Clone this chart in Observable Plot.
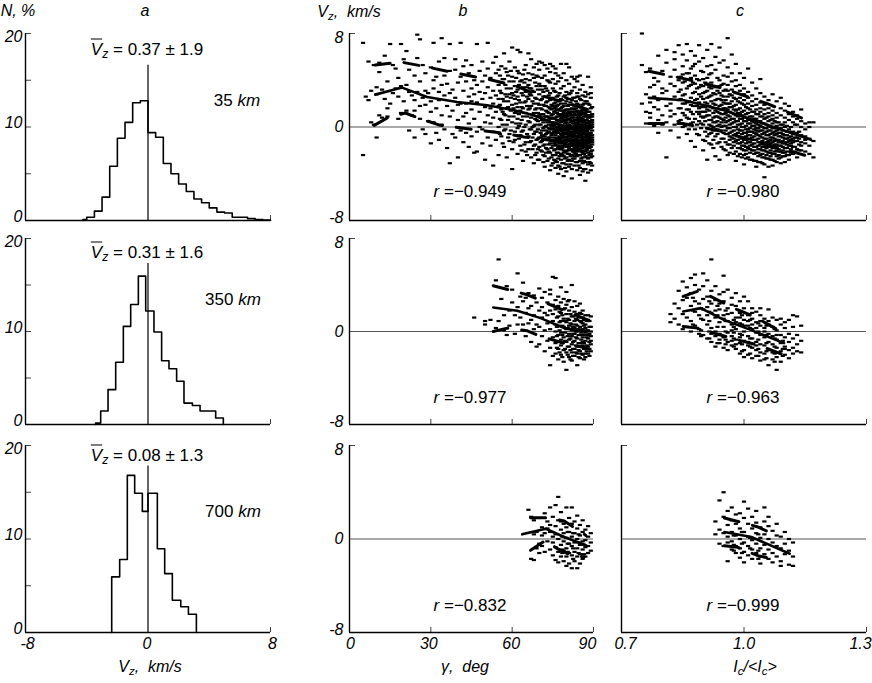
<!DOCTYPE html>
<html><head><meta charset="utf-8">
<script src="https://cdn.jsdelivr.net/npm/d3@7"></script>
<script src="https://cdn.jsdelivr.net/npm/@observablehq/plot@0.6"></script>
<style>
body{margin:0;background:#fff;}
#wrap{position:relative;width:872px;height:683px;overflow:hidden;font-family:"Liberation Sans",Arial,sans-serif;color:#000;background:#fff;}
.t{position:absolute;transform:translate(-50%,-50%);white-space:nowrap;line-height:1;}
.i{font-style:italic;}
.ov{text-decoration:overline;font-style:italic;}
sub{font-size:0.72em;vertical-align:-0.3em;line-height:0;font-style:italic;}
svg.p{position:absolute;}
</style></head><body><div id="wrap"></div>
<script>
// ---------------- DATA ----------------
const heights = ["35", "350", "700"];
const meanLabels = ["0.37 ± 1.9", "0.31 ± 1.6", "0.08 ± 1.3"];
const rB = ["−0.949", "−0.977", "−0.832"];
const rC = ["−0.980", "−0.963", "−0.999"];

// histograms (column a): bin edges and percentages
const hist1Edges = [-4.25,-4,-3.5,-3,-2.5,-2,-1.5,-1,-0.5,0,0.5,1,1.5,2,2.5,3,3.5,4,4.5,5,5.5,6,6.5,7,7.5,8];
const hist1Counts = [0.1,0.35,1.0,2.5,5.8,8.8,10.5,12.6,12.8,9.4,8.9,6.1,5.0,3.9,3.1,2.3,1.9,1.35,0.9,0.8,0.35,0.35,0.2,0.1,0.05];
const hist2Edges = [-3.42,-3.09,-2.61,-2.11,-1.61,-1.13,-0.63,-0.15,0.39,0.89,1.37,1.87,2.35,2.9,3.4,3.88,4.42,4.92];
const hist2Counts = [0.15,1.45,3.75,6.7,10.55,12.9,15.95,12.2,9.95,6.85,6.0,4.65,2.3,2.05,1.45,1.45,0.7];
const hist3Edges = [-2.37,-1.85,-1.35,-0.87,-0.37,0,0.61,1.09,1.59,2.14,2.64,3.16];
const hist3Counts = [5.95,7.8,16.8,14.9,12.95,14.9,8.95,6.3,3.45,2.75,1.95];
const meanLineTop = [16.6, 17.3, 17.8];

// scatter clouds, "x:y y y ..."  (column b: gamma in deg, column c: Ic/<Ic>)
const scatterB1 = [
"5:-2.4 7.2","6:2.6","7:5.6 2.3","8:3.1 0.4","9:5.3 0.2","10:-0.9 3.4 2.8","11:4.7 1.0 5.5","12:3.2 0.8",
"13:6.1 2.4","14:3.9 1.6 0.9","15:7.1 2.0","16:2.9 5.3","17:5.0 3.3","18:0.7 4.2 2.6","19:7.1 3.5 1.2",
"20:5.8 2.2","21:3.6 1.4 6.5","22:4.9 -0.3 3.0","23:2.7 1.0","24:4.4 2.3 -0.9 1.4","25:7.9 5.9 3.0",
"26:7.5 3.9 0.7 1.8","27:5.3 2.5 -0.2","28:4.6 1.9 -0.6 3.1","29:2.9 0.5","30:5.1 2.2 1.3 -1.4",
"31:7.2 3.3 0.4 4.0","32:4.3 1.6 -0.5","33:2.3 -1.1 3.0 5.6","34:7.6 1.0 3.6 0.2","35:5.9 2.7 -0.2 4.4",
"36:3.7 1.8 -1.8","37:7.1 4.8 -3.1 0.9 2.9","38:1.4 3.2 -0.6","39:4.9 2.5 -0.9 5.8","40:3.8 0.6 -2.6 1.9",
"41:7.2 2.0 4.3 -0.3","42:3.1 0.9 -1.3 5.2","43:5.7 2.0 3.9 -0.5 1.2","44:2.6 4.6 -1.7 0.3",
"45:5.3 3.3 1.5 -0.8 2.2","46:4.0 0.7 -2.2 2.8","47:7.1 2.1 -2.1 3.6 -0.4","48:4.8 1.3 0.0 3.0",
"49:5.6 2.4 -1.4 3.9 -0.2","50:4.4 1.7 0.4 2.9 -2.8","51:7.2 3.4 1.0 -0.9 5.0","52:2.5 4.2 -1.6 0.3 1.6",
"53:5.5 3.1 0.8 -0.4 2.0 -3.3","54:4.6 2.7 1.3 -1.1 6.0","55:3.6 1.8 0.0 -2.4 4.9 2.4",
"56:5.2 2.9 0.6 -0.8 1.5 3.8","57:4.1 2.2 -0.3 -1.7 6.3 1.1","58:3.3 1.6 0.2 4.7 -2.6 2.6",
"59:5.6 2.8 -0.6 0.9 3.9 -1.2","60:4.3 1.9 0.4 -1.9 2.9 6.8 -3.6","61:3.5 1.2 -0.4 5.1 2.4 -1.1",
"62:4.8 2.6 0.7 -2.3 1.7 3.2 -0.1 6.6","63:6.4 3.9 1.4 -0.7 2.1 -1.6 0.3","64:4.5 2.7 0.9 -2.9 3.4 -0.3 1.6",
"65:5.3 3.0 1.2 -1.3 0.2 2.2 -2.1 4.1","66:4.6 2.4 0.5 -0.8 3.6 1.5 -1.9 6.3",
"67:5.8 3.3 1.8 -0.2 -2.6 2.7 0.8 -1.2","68:4.2 2.0 0.1 -1.6 3.0 1.2 -0.6 5.1 -3.1",
"69:5.4 3.5 1.6 -0.4 2.4 0.6 -2.2 4.4 -1.1","70:4.9 2.8 1.0 -0.9 3.7 1.9 0.2 -1.7 -2.8 5.6",
"71:5.5 3.2 1.5 -0.3 2.4 0.6 -1.2 -2.1 4.2 -0.7","72:4.4 2.6 0.9 -1.5 3.5 1.8 0.0 -0.8 -2.5 5.3 -3.4",
"73:5.0 3.1 1.3 -0.5 2.2 0.4 -1.1 -1.9 4.0 -2.9 0.9","74:4.7 2.9 1.6 -0.2 3.8 0.7 -1.4 -0.9 2.3 -2.2 -3.7 5.4",
"75:4.1 2.5 1.1 -0.6 3.3 0.2 -1.6 -2.4 1.8 -0.1 -3.1 5.2",
"76:4.6 3.0 2.1 1.4 0.8 0.3 -0.2 -0.7 -1.1 -1.5 -1.9 -2.4 -2.9 -3.5 3.7 1.7 -0.4 -1.3 5.0",
"77:3.9 2.7 1.9 1.1 0.5 0.0 -0.5 -0.9 -1.3 -1.8 -2.2 -2.7 -3.3 4.4 2.3 -0.2 -1.6 -4.0 1.5",
"78:4.2 3.3 2.4 1.6 1.0 0.4 -0.1 -0.6 -1.0 -1.4 -1.9 -2.3 -2.8 -3.6 0.7 -0.3 -1.2 2.0 5.4",
"79:3.5 2.6 1.8 1.2 0.6 0.1 -0.3 -0.8 -1.2 -1.6 -2.0 -2.5 -3.1 -4.2 4.6 0.9 -0.5 -2.2 1.4",
"80:4.0 3.0 2.2 1.5 0.9 0.4 -0.1 -0.5 -0.9 -1.3 -1.7 -2.1 -2.6 -3.2 -3.8 0.6 -0.3 -1.1 2.5 1.1 5.4",
"81:3.7 2.8 1.9 1.3 0.7 0.2 -0.2 -0.7 -1.0 -1.5 -1.9 -2.3 -2.8 -3.4 5.1 1.0 -0.4 -1.7 0.0 2.4",
"82:4.3 3.1 2.3 1.6 1.0 0.5 0.0 -0.4 -0.8 -1.2 -1.6 -2.0 -2.4 -2.9 -3.6 -4.4 0.8 -0.6 -1.4 1.3",
"83:3.4 2.5 1.8 1.1 0.6 0.1 -0.3 -0.7 -1.1 -1.5 -1.8 -2.2 -2.7 -3.3 4.1 0.3 -0.5 -1.3 -2.5 1.5",
"84:3.9 2.9 2.0 1.4 0.8 0.3 -0.1 -0.5 -0.9 -1.3 -1.7 -2.1 -2.5 -3.0 -3.7 0.6 -0.3 -1.1 -1.9 2.6 4.3",
"85:3.2 2.4 1.7 1.0 0.5 0.0 -0.4 -0.8 -1.2 -1.6 -2.0 -2.4 -2.9 -3.5 -4.1 0.2 -0.6 -1.4 1.3 4.4",
"86:3.6 2.7 1.9 1.2 0.7 0.2 -0.2 -0.6 -1.0 -1.4 -1.8 -2.2 -2.6 -3.1 -3.8 0.4 -0.4 -1.2 -2.0 1.5",
"87:3.0 2.2 1.5 0.9 0.4 -0.1 -0.5 -0.9 -1.3 -1.7 -2.1 -2.5 -3.0 -3.6 -4.6 0.6 -0.3 -1.1 1.2 2.6",
"88:2.8 2.0 1.3 0.8 0.3 -0.2 -0.6 -1.0 -1.4 -1.8 -2.2 -2.7 -3.2 -3.9 4.3 0.0 -0.8 -1.6 1.0",
"89:2.5 1.6 0.9 0.4 -0.1 -0.5 -0.9 -1.3 -1.7 -2.1 -2.6 -3.1 -3.7 2.9 0.2 -1.1 -2.3 3.4",
"55.5:3.1 0.7 4.4 1.9 -0.6","56.5:2.4 4.1 0.2 1.3 -1.4","57.5:3.6 1.0 2.8 -0.2 5.0","58.5:2.2 4.4 0.6 -0.9 1.7",
"59.5:3.3 1.4 -0.3 2.5 4.8","60.5:2.7 0.9 3.9 -1.3 1.6","61.5:4.2 2.0 0.3 3.0 -0.7 1.3","62.5:3.6 1.1 -1.0 2.3 0.1 4.6",
"63.5:2.9 0.6 4.0 1.7 -0.4 -2.0","64.5:3.8 2.1 0.0 1.2 -1.5 4.9","65.5:2.6 0.9 3.4 -0.6 1.8 -2.4",
"66.5:4.0 1.6 -0.2 2.8 0.4 -1.3 3.3","67.5:3.1 1.0 2.2 -0.9 0.0 4.5 -1.9","68.5:2.5 0.7 3.8 1.5 -0.4 -1.5 -2.4 0.2",
"69.5:3.2 1.2 2.0 -0.2 0.5 -1.0 -1.9 4.3 -2.8","70.5:2.3 0.9 1.6 -0.5 0.2 -1.3 -2.0 3.5 -0.9 1.1",
"71.5:3.0 1.9 0.4 -0.1 1.1 -0.8 -1.6 -2.4 2.6 0.7 -3.0","72.5:2.1 1.4 0.6 -0.3 0.1 -1.0 -1.8 -2.2 3.3 0.9 -0.6 1.8",
"73.5:2.7 1.7 0.8 0.2 -0.4 -0.9 -1.5 -2.1 -2.7 1.2 -0.1 0.5 3.9",
"74.5:2.4 1.5 1.0 0.4 -0.2 -0.7 -1.2 -1.8 -2.6 0.8 0.1 -0.5 1.9 -3.3",
"75.5:3.1 2.0 1.3 0.7 0.1 -0.4 -0.9 -1.4 -2.0 -2.8 1.6 0.4 -0.2 -1.1",
"76.5:2.6 1.8 1.2 0.6 0.0 -0.5 -1.0 -1.6 -2.2 -3.0 1.5 0.3 -0.3 -1.3 0.9",
"77.5:2.9 2.2 1.4 0.9 0.2 -0.3 -0.8 -1.4 -1.9 -2.5 1.1 0.5 -0.1 -1.1 -1.7 -3.4",
"78.5:2.3 1.7 1.1 0.5 0.1 -0.4 -0.9 -1.3 -1.8 -2.4 -3.1 1.4 0.8 -0.2 -0.7 -1.6",
"79.5:2.7 2.0 1.4 0.8 0.3 -0.2 -0.6 -1.1 -1.5 -2.1 -2.7 1.0 0.5 0.0 -0.9 -1.4 -3.5",
"80.5:2.4 1.8 1.2 0.7 0.2 -0.3 -0.8 -1.2 -1.7 -2.3 -2.9 1.5 0.9 -0.1 -0.6 -1.5 -2.0",
"81.5:2.9 2.1 1.5 1.0 0.4 -0.1 -0.5 -1.0 -1.4 -1.9 -2.5 1.2 0.6 0.1 -0.8 -1.2 -3.2",
"82.5:2.5 1.9 1.3 0.8 0.3 -0.2 -0.7 -1.1 -1.6 -2.1 -2.7 1.0 0.5 -0.4 -0.9 -1.4 -1.9",
"83.5:2.2 1.6 1.0 0.6 0.1 -0.4 -0.8 -1.3 -1.7 -2.3 -3.0 1.3 0.4 -0.1 -1.0 -1.5 -2.0",
"84.5:2.6 1.9 1.3 0.9 0.4 0.0 -0.5 -0.9 -1.4 -1.9 -2.4 -3.3 1.1 0.7 0.2 -0.7 -1.2 -1.6",
"85.5:2.3 1.7 1.1 0.6 0.2 -0.3 -0.7 -1.1 -1.6 -2.1 -2.7 1.4 0.8 -0.1 -0.9 -1.3 -1.8",
"86.5:2.0 1.4 0.9 0.5 0.0 -0.4 -0.8 -1.3 -1.7 -2.3 -2.9 1.1 0.6 0.2 -0.6 -1.1 -1.5 -3.6",
"87.5:2.2 1.5 1.0 0.6 0.1 -0.3 -0.7 -1.2 -1.6 -2.0 -2.6 1.3 0.3 -0.1 -0.9 -1.4 -1.9",
"88.5:1.9 1.3 0.8 0.4 -0.1 -0.5 -0.9 -1.3 -1.8 -2.4 -3.0 1.0 0.5 0.1 -0.7 -1.1 -1.6",
"89.5:1.7 1.1 0.6 0.2 -0.3 -0.7 -1.1 -1.5 -2.0 -2.5 0.9 0.4 0.0 -0.9 -1.3 -3.3"
];
const scatterC1 = [
"0.75:8.0 5.3 2.0","0.76:1.3 4.7 0.3 2.8","0.77:3.4 0.8 2.1 5.0 1.2","0.78:4.2 1.7 0.1 2.6 3.6",
"0.79:2.3 6.1 0.6 3.9 1.5 -0.5","0.80:4.8 2.9 1.0 0.2 3.3","0.81:5.5 3.1 1.8 0.4 2.4 6.6 -2.6",
"0.82:4.3 2.0 0.9 3.7 1.4 -0.3","0.83:6.4 3.5 2.6 1.1 0.2 4.9 5.8","0.84:4.0 2.3 1.6 0.5 3.0 7.0 -0.9",
"0.85:5.2 3.8 2.7 1.2 0.0 4.5 2.0 6.2","0.86:4.6 3.3 2.1 0.8 5.7 1.5 -0.6 7.1",
"0.87:5.0 3.6 2.5 1.3 0.3 4.2 -1.2 6.5 1.9","0.88:6.1 4.4 3.0 1.8 0.7 -0.2 2.3 3.7 5.4 -1.7",
"0.89:5.6 4.0 2.8 1.6 0.5 3.4 -0.7 2.1 7.0 1.1","0.90:4.7 3.5 2.4 1.3 0.2 5.9 -1.1 2.9 0.8 4.1 -2.0",
"0.91:6.6 4.2 3.1 2.0 1.0 -0.1 3.7 1.5 -0.8 5.2 2.5 -2.8","0.92:5.3 3.8 2.7 1.7 0.6 -0.5 4.6 2.2 0.1 -1.5 3.3 7.1",
"0.93:4.9 3.4 2.3 1.4 0.4 -0.8 6.0 1.9 -0.2 2.8 -2.5 0.9","0.94:5.5 4.0 2.9 1.8 0.8 -0.3 3.5 1.2 -1.3 2.4 0.2 6.8 -2.8",
"0.95:4.4 3.1 2.1 1.1 0.1 -1.0 3.7 1.6 -0.5 2.6 0.6 5.7 -1.9","0.96:5.1 3.6 2.6 1.5 0.5 -0.6 2.0 1.0 -0.1 -1.5 3.1 4.3 -2.4 7.6",
"0.97:4.6 3.2 2.2 1.2 0.3 -0.9 1.7 0.7 -0.4 -1.8 2.7 3.9 6.2","0.98:4.0 2.9 1.9 1.0 0.0 -1.2 1.4 0.5 -0.6 -2.1 2.4 3.5 5.4 -2.9",
"0.99:3.6 2.5 1.6 0.7 -0.3 -1.4 1.1 0.2 -0.9 -2.3 2.1 3.1 4.6 -1.8","1.00:3.3 2.3 1.4 0.5 -0.5 -1.6 0.9 0.0 -1.1 -2.4 1.9 2.8 4.2 -3.2 -2.0",
"1.01:3.0 2.0 1.2 0.3 -0.7 -1.8 0.7 -0.2 -1.3 -2.6 1.6 2.5 5.0 -0.4","1.02:2.7 1.8 0.9 0.1 -0.9 -2.0 0.5 -0.4 -1.5 -2.8 1.3 2.2 3.8 -1.1",
"1.03:2.4 1.5 0.7 -0.1 -1.1 -2.2 0.3 -0.6 -1.7 -2.9 1.1 1.9 3.3 -0.3 -3.4","1.04:2.1 1.3 0.5 -0.3 -1.3 -2.4 0.1 -0.8 -1.9 -3.0 0.9 1.6 2.9 -1.5 4.1",
"1.05:1.9 1.1 0.3 -0.5 -1.5 -2.6 -0.1 -1.0 -2.0 -3.2 0.7 1.5 2.6 -1.7 -4.3","1.06:1.6 0.9 0.1 -0.7 -1.7 -2.7 -0.3 -1.2 -2.2 -3.4 0.5 1.2 2.3 -1.4",
"1.07:1.4 0.7 -0.1 -0.9 -1.8 -2.8 -0.5 -1.3 -2.3 -3.3 0.3 1.0 2.8 -1.6","1.08:1.2 0.4 -0.3 -1.1 -2.0 -3.0 -0.6 -1.5 -2.5 0.1 0.8 2.2 -1.8",
"1.09:1.0 0.2 -0.5 -1.3 -2.1 -3.1 -0.8 -1.6 -2.6 1.6 -0.1 2.5","1.10:0.8 0.0 -0.7 -1.4 -2.2 -3.0 -1.0 -1.8 -2.5 1.4 0.4 2.0",
"1.11:0.6 -0.2 -0.9 -1.6 -2.4 -2.8 -1.2 -0.4 1.1 1.8","1.12:0.4 -0.4 -1.0 -1.7 -2.3 -1.3 0.9 -0.6 1.3",
"1.13:0.2 -0.5 -1.2 -1.9 -2.6 0.7 -0.9 1.0","1.14:0.0 -0.7 -1.3 -2.0 0.5 -1.6 1.5","1.15:-0.2 -0.8 -1.4 -2.1 0.3 -1.1",
"1.16:0.4 -1.0 -1.6 -2.3 0.0","1.17:-2.6 -1.2 0.4",
"0.845:3.2 1.6 0.6 4.3 2.4","0.855:2.8 1.0 3.9 0.1 2.0","0.865:3.5 2.2 0.7 1.5 4.6 -0.2",
"0.875:2.9 1.8 0.4 3.8 1.1 5.2","0.885:3.3 2.4 1.3 0.2 4.1 -0.6 1.8","0.895:2.6 1.7 0.9 3.6 -0.1 4.8 1.3 0.3",
"0.905:3.0 2.1 1.3 0.5 -0.4 3.8 1.7 0.9 -1.2","0.915:2.6 1.8 1.0 0.2 -0.6 3.4 1.4 0.6 -1.4 4.5",
"0.925:2.9 2.0 1.2 0.4 -0.3 -1.1 3.5 1.6 0.8 0.0 -1.8","0.935:2.4 1.6 0.9 0.1 -0.6 -1.4 3.1 1.3 0.5 -0.2 4.2",
"0.945:2.7 1.9 1.1 0.4 -0.3 -1.0 -1.7 2.3 1.5 0.7 0.0 3.6","0.955:2.3 1.6 0.8 0.1 -0.6 -1.3 -2.0 2.0 1.2 0.4 -0.3 3.2",
"0.965:2.0 1.3 0.6 -0.1 -0.8 -1.5 -2.2 1.7 0.9 0.2 -0.5 2.8 -1.1","0.975:1.8 1.1 0.4 -0.3 -1.0 -1.6 -2.3 1.5 0.7 0.0 -0.7 2.5 -1.3",
"0.985:1.5 0.9 0.2 -0.5 -1.1 -1.8 -2.5 1.2 0.5 -0.2 -0.8 2.2 -1.4","0.995:1.3 0.7 0.0 -0.6 -1.3 -1.9 -2.6 1.0 0.3 -0.3 -1.0 2.0 -1.6",
"1.005:1.1 0.5 -0.2 -0.8 -1.4 -2.0 -2.7 0.8 0.1 -0.5 -1.1 1.7 -1.7 -2.3","1.015:0.9 0.3 -0.4 -1.0 -1.6 -2.2 -2.8 0.6 -0.1 -0.7 -1.3 1.5 -1.9",
"1.025:0.7 0.1 -0.5 -1.1 -1.7 -2.3 -2.9 0.4 -0.2 -0.8 -1.4 1.3 -2.0","1.035:0.5 -0.1 -0.7 -1.3 -1.9 -2.5 -3.0 0.2 -0.4 -1.0 -1.6 1.1 -2.2",
"1.045:0.3 -0.3 -0.9 -1.4 -2.0 -2.6 -3.1 0.0 -0.6 -1.2 -1.7 0.9 -2.3","1.055:0.2 -0.4 -1.0 -1.6 -2.1 -2.7 0.8 -0.1 -0.7 -1.3 -1.8 -2.4",
"1.065:0.0 -0.6 -1.1 -1.7 -2.2 -2.8 0.6 -0.3 -0.9 -1.4 -2.0 -2.5","1.075:-0.1 -0.7 -1.2 -1.8 -2.3 -2.9 0.5 -0.4 -1.0 -1.5 -2.1",
"1.085:-0.2 -0.8 -1.3 -1.9 -2.4 0.4 -0.5 -1.1 -1.6 -2.1 -2.7","1.095:-0.3 -0.9 -1.4 -2.0 -2.5 0.2 -0.6 -1.2 -1.7 -2.2",
"1.105:-0.4 -1.0 -1.5 -2.1 0.1 -0.7 -1.3 -1.8 -2.4","1.115:-0.5 -1.1 -1.6 -2.2 0.0 -0.8 -1.4 -1.9",
"1.125:-0.6 -1.2 -1.7 0.2 -0.9 -2.1","1.135:-0.4 -1.0 -1.5 -2.0"
];
const scatterB2 = [
"46:1.2","50:0.9 0.6","52:1.0","54:4.4 0.3","55:6.2 0.9","56:2.8","57:1.4 0.1","58:-0.3 3.9","59:1.8 0.5",
"60:3.6 2.5","61:1.4 -0.2","62:5.0 0.6 2.1","63:3.0 1.2","64:4.2 2.6 0.6","65:1.6 -0.4 2.9","66:0.7 3.3 2.0",
"67:2.2 1.0 -0.9","68:1.4 3.1 0.2","69:0.6 2.5 -1.3","70:3.7 1.8 -1.1 0.4","71:2.9 -0.4 1.2 2.1",
"72:1.6 0.1 -1.7 3.4","73:1.4 2.5 -0.8 0.7","74:3.6 3.2 -2.9 0.2 1.8 -1.4","75:4.7 2.3 0.9 -0.5 -2.1 1.5",
"76:4.6 0.6 1.9 -1.0 -1.9 2.7 0.0","77:3.0 1.3 -0.3 -1.5 2.2 0.5 -2.4","78:2.5 0.9 -0.7 -1.2 1.6 -0.1 -2.0 3.8",
"79:1.9 0.4 -0.5 -1.6 2.8 1.1 -2.6","80:3.4 1.5 0.2 -0.9 -1.8 0.8 -3.3 2.3","81:2.7 1.0 -0.2 -1.3 -2.2 0.5 1.8 -0.7",
"82:4.0 2.1 0.6 -0.4 -1.1 -2.5 1.3 -1.8 0.1","83:1.7 0.3 -0.8 -1.5 2.6 0.9 -2.1 -0.2",
"84:2.2 1.0 0.0 -0.6 -1.3 -2.9 1.5 -1.9 0.5","85:1.6 0.4 -0.3 -1.0 -1.7 2.4 0.9 -2.3",
"86:1.2 0.2 -0.5 -1.2 -2.0 0.7 -0.9 1.8","87:1.4 0.6 -0.1 -0.8 -1.5 -2.2 0.3 -1.9",
"88:1.0 0.1 -0.6 -1.3 -1.9 1.4 -0.3","89:1.3 0.4 -0.4 -1.1 -1.7 0.0 -0.8",
"76.5:1.2 -0.4 -1.4 0.4 2.1","77.5:0.8 -0.9 -1.8 1.7 0.1","78.5:1.4 -0.3 -1.0 0.5 -2.2","79.5:0.9 -0.8 -1.5 -0.1 2.0",
"80.5:1.1 -0.4 -1.3 0.3 -2.0 2.6","81.5:0.7 -0.6 -1.6 0.2 1.5 -2.4","82.5:1.3 -0.2 -0.9 -1.5 0.4 -2.1",
"83.5:0.6 -0.5 -1.2 -1.8 1.1 0.0","84.5:1.2 0.2 -0.3 -1.0 -1.6 -2.2","85.5:0.8 -0.1 -0.7 -1.3 -1.9 1.5",
"86.5:0.5 -0.3 -1.0 -1.5 -2.4 1.0","87.5:0.9 0.1 -0.5 -1.2 -1.7","88.5:0.4 -0.2 -0.9 -1.5 -2.1 0.9"
];
const scatterC2 = [
"0.82:1.5 0.8","0.83:2.4 1.1","0.84:3.5 0.6 2.0","0.85:4.3 1.5 0.2 2.7","0.86:2.9 1.2 3.8 0.4",
"0.87:4.6 2.2 0.9 0.0 3.3","0.88:4.9 1.7 0.5 2.6 4.0","0.89:3.6 1.4 0.2 2.4 -0.2","0.90:5.0 2.8 1.0 -0.3 3.9 1.9",
"0.91:4.4 2.1 0.6 -0.6 3.0 1.4","0.92:6.2 3.5 1.6 0.3 -0.9 2.4 -0.2","0.93:3.9 2.7 1.2 0.0 -0.4 1.8 -1.3",
"0.94:3.2 1.9 0.8 -0.7 2.4 -0.2 -1.0","0.95:4.8 2.6 1.4 0.4 -0.5 -1.4 1.1 3.4","0.96:3.6 2.0 0.9 -0.1 -0.9 1.5 -1.6",
"0.97:2.9 1.6 0.6 -0.4 -1.2 2.3 0.1 -0.8","0.98:3.3 2.2 1.2 0.2 -0.7 -1.5 0.8 -1.1","0.99:2.6 1.6 0.7 -0.2 -1.0 -1.9 1.2 -0.5",
"1.00:3.0 2.0 1.0 0.0 -0.8 -1.6 0.5 -2.2","1.01:2.6 1.4 0.5 -0.4 -1.2 -2.0 0.9 -0.9","1.02:2.0 1.1 0.2 -0.6 -1.4 -2.3 0.6 1.6",
"1.03:1.7 0.8 -0.1 -0.9 -1.6 -2.1 0.3 -1.2","1.04:1.4 0.5 -0.3 -1.1 -1.8 -2.5 0.9 2.0","1.05:1.1 0.3 -0.5 -1.2 -1.9 -2.4 0.0",
"1.06:1.9 0.6 -0.2 -0.9 -1.6 -2.9 0.9","1.07:0.4 -0.4 -1.1 -1.8 -2.4 1.2","1.08:1.0 0.1 -0.7 -1.4 -2.2 -3.3 -0.3",
"1.09:0.6 -0.3 -1.0 -1.7 -2.6 1.1","1.10:0.3 -0.5 -1.3 -2.0 -1.5 0.8","1.11:1.0 -0.2 -0.9 -1.6 -2.3",
"1.12:1.4 0.4 -0.6 -1.4 -1.9","1.13:1.3 -0.3 -1.1 -1.7","1.14:0.5 -0.8 -1.8",
"0.875:1.8 0.6 2.9","0.895:1.1 2.0 0.1 -0.4","0.915:0.9 1.7 0.0 -0.6 2.6","0.935:1.4 0.4 -0.3 -1.0 2.2",
"0.955:0.9 0.0 -0.7 -1.1 1.8","0.975:1.0 -0.1 -0.6 -1.3 0.4","0.995:0.6 -0.3 -1.1 -1.7 1.4","1.015:0.3 -0.6 -1.3 -1.9 1.0",
"1.035:0.0 -0.7 -1.5 -2.1 0.7","1.055:-0.3 -1.0 -1.7 -2.3 0.5","1.075:-0.6 -1.3 -1.9 -2.6 0.2","1.095:-0.8 -1.5 -2.1"
];
const scatterB3 = [
"66:2.5","67:1.9 -1.7","68:1.6 0.4 -1.8","69:0.6 -0.8","70:1.8 -0.4 -1.2","71:1.0 0.3 -0.6","72:2.2 0.5 -1.1",
"73:1.5 -0.2 0.9","74:2.7 0.6 -0.9 1.2","75:1.9 -0.3 -1.4 0.2","76:2.9 1.1 -0.7 -1.8 0.4","77:3.6 1.6 0.0 -1.1 -2.0",
"78:2.3 0.8 -0.5 -1.5 1.5","79:1.3 -0.2 -1.0 -1.9 0.5","80:2.7 1.0 0.1 -0.8 -1.5 -2.3","81:1.8 0.6 -0.4 -1.2 -2.1",
"82:2.7 1.3 0.2 -0.6 -1.4 -2.5","83:1.5 0.5 -0.3 -1.1 -1.9","84:2.0 0.9 0.0 -0.8 -2.5 -1.5","85:1.2 0.3 -0.5 -1.3 -2.1",
"86:1.6 0.6 -0.2 -0.9 -1.7","87:0.8 -0.1 -0.7 -1.5","88:1.1 0.2 -0.6 -1.2","89:0.5 -0.3 -1.0",
"78.5:-0.9 0.2 -1.2","80.5:-0.4 -1.1 0.6","82.5:-0.8 -1.7 0.5","84.5:-0.3 -1.2 0.4","86.5:-0.5 -1.3"
];
const scatterC3 = [
"0.93:0.4 1.5","0.94:3.3 0.8 -0.4","0.95:4.0 1.9 0.5 -0.6","0.96:2.4 1.2 -0.3 -1.9 0.2","0.97:2.7 1.6 0.6 -0.9 -0.2",
"0.98:1.3 0.3 -0.6 -1.2 2.1","0.99:2.2 0.9 0.0 -0.8 -1.6","1.00:3.2 1.8 0.6 -0.3 -1.1 -2.0","1.01:2.6 1.3 0.2 -0.6 -1.4",
"1.02:1.9 0.9 -0.1 -0.9 -1.7","1.03:1.4 0.5 -0.4 -1.2 2.4","1.04:1.0 0.1 -0.8 -1.5 -2.1","1.05:2.7 1.5 0.4 -0.5 -1.3",
"1.06:1.1 0.0 -0.9 -1.7 1.9","1.07:0.7 -0.3 -1.2 -2.0","1.08:1.3 0.3 -0.6 -1.5","1.09:0.2 -0.8 -1.9 -2.3",
"1.10:0.6 -0.4 -1.3","1.11:0.0 -1.0 -2.2","1.12:-0.3 -1.5 -2.3",
"0.975:-0.5 0.3 -1.0","0.995:-0.4 0.6 -1.2","1.015:-0.8 0.1","1.035:-1.0 0.4 -1.7"
];

// mean (solid) and mean ± sigma (dashed) curves
const meanB1 = [[9.5,2.77],[19.4,3.37],[28.6,2.57],[39.7,2.14],[50.8,1.86],[60.7,1.43],[68,1.0],[75.5,0.29],[82.9,-0.14],[88,-0.35]];
const upB1 = [[9.5,5.3],[18.7,5.57],[28.6,5.14],[37.2,4.71],[52.7,4.0],[60.7,3.57],[68,2.86],[78,2.2],[88,1.5]];
const loB1 = [[9.1,0.14],[14.1,0.8],[20.6,1.2],[26.1,0.71],[33.5,0.14],[38.5,0],[48.3,-0.29],[58.2,-0.57],[64.4,-0.86],[76,-1.2],[88,-1.6]];
const meanC1 = [[0.767,2.49],[0.853,2.29],[0.951,1.43],[1.049,0.29],[1.164,-1.09]];
const upC1 = [[0.767,4.77],[0.853,4.14],[0.951,3.29],[1.057,2.0],[1.164,0.43]];
const loC1 = [[0.767,0.29],[0.853,0.29],[0.951,-0.43],[1.049,-1.43],[1.164,-2.57]];
const meanB2 = [[53,2.07],[61.9,1.78],[70.5,1.15],[79.2,0.29],[87.8,0]];
const upB2 = [[53,3.94],[65.6,3.16],[75.5,2.16],[87.8,1.0]];
const loB2 = [[53,0],[58.2,0.29],[65.6,0.06],[70.5,-0.43],[79.2,-1.0],[87.8,-1.44]];
const meanC2 = [[0.851,1.72],[0.894,2.01],[0.951,1.0],[1.016,0.14],[1.098,-1.0]];
const upC2 = [[0.851,3.02],[0.886,3.45],[0.918,3.02],[0.951,2.44],[0.984,1.87],[1.025,1.29],[1.09,0]];
const loC2 = [[0.851,0.43],[0.886,0.29],[0.926,-0.14],[0.984,-0.72],[1.033,-1.15],[1.098,-2.01]];
const meanB3 = [[63.7,0.4],[72.4,0.88],[79.2,0.17],[87.2,-0.54]];
const upB3 = [[66.8,1.82],[73.6,1.82],[79.2,1.54],[87.2,0.31]];
const loB3 = [[66.8,-0.97],[72.4,-0.11],[76.7,-0.83],[80.4,-1.25],[86.6,-1.54]];
const meanC3 = [[0.952,0.6],[1.018,0.17],[1.112,-1.26]];
const upC3 = [[0.952,1.8],[1.0,1.37],[1.034,1.03],[1.071,0.43]];
const loC3 = [[0.952,-0.57],[0.985,-0.71],[1.034,-1.43],[1.071,-1.71]];

// axis ticks and tick labels
const ticksA_x = [-8, 0, 8], ticksA_y = [0, 10, 20], minorA_y = [5, 10, 15, 20];
const ticksB_x = [0, 30, 60, 90], ticksBC_y = [-8, 0, 8];
const ticksC_x = [0.7, 1.0, 1.3];

// ---------------- LAYOUT ----------------
const wrap = document.getElementById("wrap");
const colLeft = [25, 349, 621], colW = [245, 244, 245], colML = [26, 36, 12], colMR = [6, 6, 14];
const rowTop = [33, 238, 445], rowH = [187, 186, 187];
const xLabelDx = [[2, -1, 2], [1, -2, -1, -6], [4, 0, -6]];
const yLabelDy = {a: [-4, -4, 3], b: [-3, 0, 4]};
const font = {fontFamily: "'Liberation Sans', Arial, sans-serif", fontSize: "16px", fontStyle: "italic",
  background: "transparent", overflow: "visible", color: "#000"};

const parseCols = arr => arr.flatMap(s => {
  const [x, ys] = s.split(":");
  return ys.trim().split(/\s+/).map(y => ({x: +x, y: +y}));
});
const pairs = a => a.map(([x, y]) => ({x, y}));
function histPoints(edges, counts) {
  const pts = [{x: edges[0], y: 0}];
  counts.forEach((c, i) => pts.push({x: edges[i], y: c}));
  pts.push({x: edges[edges.length - 1], y: counts[counts.length - 1]});
  pts.push({x: edges[edges.length - 1], y: 0});
  return pts;
}
const dashSym = {draw(ctx) { ctx.moveTo(-2.1, -1.1); ctx.lineTo(2.1, -1.1); ctx.lineTo(2.1, 1.1); ctx.lineTo(-2.1, 1.1); ctx.closePath(); }};

function frameMarks(xd, yd, W, H, yMinor, xMinor, zero) {
  const m = [];
  if (zero) m.push(Plot.ruleY([0], {stroke: "#555", strokeWidth: 1}));
  m.push(Plot.tickY(yMinor, {y: d => d, insetRight: W - 6, stroke: "#444", strokeWidth: 1}));
  m.push(Plot.tickX(xMinor, {x: d => d, insetTop: H - 5, stroke: "#444", strokeWidth: 1}));
  m.push(Plot.ruleX([xd[0]], {stroke: "#000", strokeWidth: 1.4}));
  m.push(Plot.ruleY([yd[0]], {stroke: "#000", strokeWidth: 1.4}));
  return m;
}
function xLabels(ticks, fmt, dxs) {
  return ticks.map((t, i) => Plot.text([t], {x: d => d, text: fmt, frameAnchor: "bottom", lineAnchor: "top",
    dy: 5, dx: dxs[i], fontSize: 16, fontStyle: "italic", fill: "#000"}));
}
function yLabels(ticks, dys, pad) {
  return ticks.map((t, i) => Plot.text([t], {y: d => d, text: d => String(d), frameAnchor: "left", textAnchor: "end",
    dx: -pad, dy: dys[i], fontSize: 16, fontStyle: "italic", fill: "#000"}));
}

function place(svg, col, row, mt) {
  svg.classList.add("p");
  svg.style.left = (colLeft[col] - colML[col]) + "px";
  svg.style.top = (rowTop[row] - mt) + "px";
  wrap.appendChild(svg);
}

function histPanel(row, edges, counts) {
  const col = 0, W = colW[col], H = rowH[row], mt = 10, mb = row === 2 ? 30 : 4;
  const xd = [-8, 8], yd = [0, 20];
  const svg = Plot.plot({
    width: colML[col] + W + colMR[col], height: mt + H + mb,
    marginLeft: colML[col], marginRight: colMR[col], marginTop: mt, marginBottom: mb,
    style: font,
    x: {domain: xd, axis: null}, y: {domain: yd, axis: null},
    marks: [
      ...frameMarks(xd, yd, W, H, minorA_y, [8], false),
      ...yLabels(ticksA_y, yLabelDy.a, 3),
      ...(row === 2 ? xLabels(ticksA_x, d => String(d), xLabelDx[0]) : []),
      Plot.ruleX([0], {y1: 0, y2: meanLineTop[row], stroke: "#000", strokeWidth: 1.2}),
      Plot.line(histPoints(edges, counts), {x: "x", y: "y", curve: "step-after", stroke: "#000", strokeWidth: 1.6})
    ]
  });
  place(svg, col, row, mt);
}

function scatterPanel(col, row, pts, mean, up, lo) {
  const W = colW[col], H = rowH[row], mt = 10, mb = row === 2 ? 30 : 4;
  const yd = [-8, 8];
  const xd = col === 1 ? [0, 90] : [0.7, 1.3];
  const svg = Plot.plot({
    width: colML[col] + W + colMR[col], height: mt + H + mb,
    marginLeft: colML[col], marginRight: colMR[col], marginTop: mt, marginBottom: mb,
    style: font,
    x: {domain: xd, axis: null}, y: {domain: yd, axis: null},
    marks: [
      ...frameMarks(xd, yd, W, H, [8], col === 1 ? [30, 60, 90] : [1.0, 1.3], true),
      ...(col === 1 ? yLabels(ticksBC_y, yLabelDy.b, 6) : []),
      ...(row === 2 ? (col === 1 ? xLabels(ticksB_x, d => String(d), xLabelDx[1]) : xLabels(ticksC_x, d3.format(".1f"), xLabelDx[2])) : []),
      Plot.dot(parseCols(pts), {x: "x", y: "y", symbol: dashSym, fill: "#000", stroke: "none"}),
      Plot.line(pairs(up), {x: "x", y: "y", stroke: "#000", strokeWidth: 3, strokeDasharray: "15,14"}),
      Plot.line(pairs(lo), {x: "x", y: "y", stroke: "#000", strokeWidth: 3, strokeDasharray: "15,14"}),
      Plot.line(pairs(mean), {x: "x", y: "y", stroke: "#000", strokeWidth: 2.6})
    ]
  });
  place(svg, col, row, mt);
}

histPanel(0, hist1Edges, hist1Counts);
histPanel(1, hist2Edges, hist2Counts);
histPanel(2, hist3Edges, hist3Counts);
scatterPanel(1, 0, scatterB1, meanB1, upB1, loB1);
scatterPanel(2, 0, scatterC1, meanC1, upC1, loC1);
scatterPanel(1, 1, scatterB2, meanB2, upB2, loB2);
scatterPanel(2, 1, scatterC2, meanC2, upC2, loC2);
scatterPanel(1, 2, scatterB3, meanB3, upB3, loB3);
scatterPanel(2, 2, scatterC3, meanC3, upC3, loC3);

// ---------------- TEXT ----------------
function label(html, x, y, size, cls = "") {
  const d = document.createElement("div");
  d.className = "t " + cls;
  d.style.left = x + "px"; d.style.top = y + "px"; d.style.fontSize = size + "px";
  d.innerHTML = html;
  wrap.appendChild(d);
}
label("N, %", 18, 11, 16, "i");
label("a", 145, 11, 16, "i");
label("V<sub>z</sub>,&nbsp; km/s", 349, 12, 16, "i");
label("b", 463, 11, 16, "i");
label("c", 740, 11, 16, "i");
const meanY = [49, 252, 455], kmY = [100, 299, 511], kmX = [237, 233, 233], rY = [191, 397, 605];
for (let r = 0; r < 3; r++) {
  label(`<span class="ov">V</span><sub>z</sub> = ${meanLabels[r]}`, 147, meanY[r], 17);
  label(`${heights[r]} <i>km</i>`, kmX[r], kmY[r], 17);
  label(`<i>r</i> =${rB[r]}`, 470, rY[r], 17);
  label(`<i>r</i> =${rC[r]}`, 743, rY[r], 17);
}
label("V<sub>z</sub>,&nbsp; km/s", 150, 667, 16, "i");
label("γ,&nbsp; deg", 465, 667, 16, "i");
label("I<sub>c</sub>/&lt;I<sub>c</sub>&gt;", 755, 667, 16, "i");
</script></body></html>
